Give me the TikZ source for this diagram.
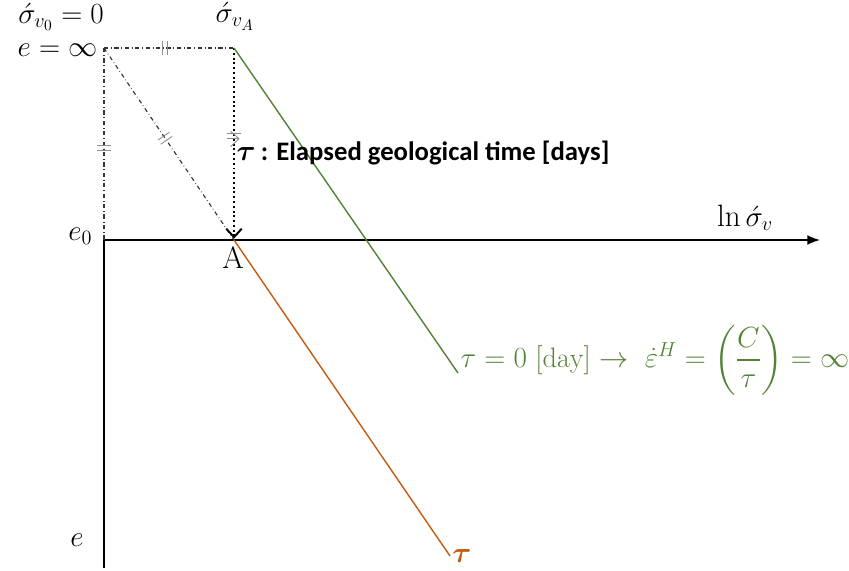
\documentclass[tikz,border=0pt]{standalone}
\usepackage{amsmath}
\usepackage{fontspec}
\newfontfamily\calibri{Carlito}
\usetikzlibrary{arrows.meta, decorations.markings}
\definecolor{zerogrn} {RGB}{ 84,130, 53}
\definecolor{tauorg}  {RGB}{197, 90, 17}
\definecolor{tickgray}{RGB}{140,140,140}
\tikzset{
  axis/.style       = {-{Latex[length=9pt, width=7pt]}, line width=1.2pt},
  guide line/.style = {dash dot, line width=0.8pt, black!80},
  time line/.style  = {dotted, line width=1.4pt, -{Straight Barb[length=6pt, width=11pt]}},
  zero line/.style  = {zerogrn, line width=1pt},
  tau line/.style   = {tauorg, line width=1pt},
  equal mark/.style = {postaction={decorate}, decoration={markings,
      mark=at position #1 with {\draw[tickgray, line width=0.6pt, solid]
        (-1.8pt,-5pt) -- (-1.8pt,5pt) (1.8pt,-5pt) -- (1.8pt,5pt);}}},
  lbl/.style        = {inner sep=1pt, font=\fontsize{22}{26}\selectfont},
}

\begin{document}
\begin{tikzpicture}[x=0.025cm, y=-0.025cm]

  \useasboundingbox (0,0) rectangle (849,571);

  % key points of the e -- ln sigma plot
  \coordinate (inf)  at (104, 48);
  \coordinate (sigA) at (234, 48);
  \coordinate (A)    at (234,240);
  \coordinate (O)    at (104,240);
  \coordinate (xend) at (820,240);
  \coordinate (yend) at (104,568);
  \coordinate (gend) at (458,373);
  \coordinate (oend) at (450,556);

  % axes
  \draw[axis] (O) -- (xend);
  \draw[line width=1.2pt] (O) -- (yend);

  % construction lines from e = infinity
  \draw[guide line, equal mark=0.47] (inf) -- (sigA);
  \draw[guide line, equal mark=0.52] (inf) -- (O);
  \draw[guide line, equal mark=0.47] (inf) -- (A);
  \draw[time line, equal mark=0.46, shorten >=1pt] (sigA) -- (A);

  % compression lines
  \draw[zero line] (sigA) -- (gend);
  \draw[tau line]  (A) -- (oend);

  % labels
  \node[lbl] (s0)   at (61, 17)  {$\acute{\sigma}_{v_0} = 0$};
  \node[lbl, anchor=east] (einf) at (99, 50) {$e = \infty$};
  \node[lbl] (sA)   at (235, 16) {$\acute{\sigma}_{v_A}$};
  \node[lbl, anchor=east] (e0) at (94, 236) {$e_0$};
  \node[lbl] (Alab) at (233, 258) {A};
  \node[lbl] (lnx)  at (745, 218) {$\ln \acute{\sigma}_v$};
  \node[lbl] (elab) at (77, 540)  {$e$};
  \node[lbl, anchor=west] (tdef) at (235, 153)
    {$\boldsymbol{\tau}$\,{\calibri\bfseries\fontsize{19}{22}\selectfont: Elapsed geological time [days]}};
  \node[lbl, zerogrn, anchor=west, font=\fontsize{20}{24}\selectfont] (tzero) at (459, 360)
    {$\tau = 0\ [\mathrm{day}] \rightarrow\ \dot{\varepsilon}^{H} = \left(\dfrac{C}{\tau}\right) = \infty$};
  \node[lbl, tauorg] (tlab) at (462, 556) {$\boldsymbol{\tau}$};

\end{tikzpicture}
\end{document}
